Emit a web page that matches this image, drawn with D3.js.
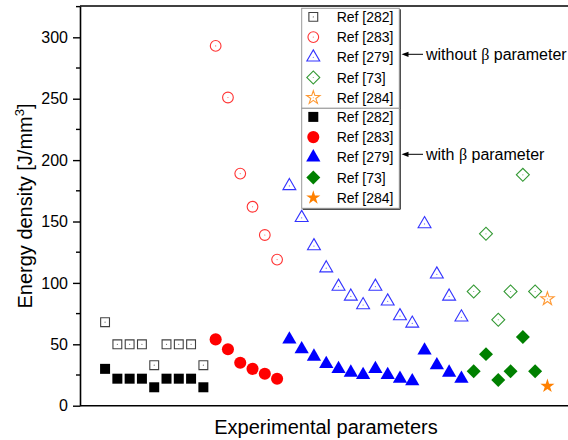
<!DOCTYPE html>
<html>
<head>
<meta charset="utf-8">
<script src="https://cdn.jsdelivr.net/npm/d3@7"></script>
<style>
  body { margin: 0; background: #fff; }
  svg { display: block; font-family: "Liberation Sans", Arial, sans-serif; }
</style>
</head>
<body>
<svg id="chart" width="568" height="440"></svg>
<script>
// references, in legend order
const refs = ["Ref [282]", "Ref [283]", "Ref [279]", "Ref [73]", "Ref [284]"];
const colors = ["#000000", "#ff0000", "#0000ff", "#008000", "#ff8000"];
// first experimental parameter index of each reference
const startIndex = [0, 9, 15, 30, 36];

// energy density without beta parameter (open symbols)
const withoutBeta = [
    [68, 50, 50, 50, 33, 50, 50, 50, 33],
    [293, 251, 189, 162, 139, 119],
    [179, 153, 130, 112, 97, 89, 82, 97, 85, 73, 67, 148, 107, 89, 72],
    [93, 140, 70, 93, 188, 93],
    [87]
];
// energy density with beta parameter (filled symbols)
const withBeta = [
    [30, 22, 22, 22, 15, 22, 22, 22, 15],
    [54, 46, 35, 30, 26, 22],
    [54, 46, 40, 34, 30, 27, 25, 30, 25, 22, 20, 45, 33, 27, 22],
    [28, 42, 21, 28, 56, 28],
    [16]
];

const yTicks = [0, 50, 100, 150, 200, 250, 300];
const yMinorTicks = [25, 75, 125, 175, 225, 275, 325];

const svg = d3.select("#chart");
const plotLeft = 80, plotRight = 572, plotTop = 6, plotBottom = 405.7;

let x = d3.scaleLinear().domain([-2.04, 38]).range([plotLeft, plotRight]);
let y = d3.scaleLinear().domain([0, 325.5]).range([plotBottom, plotTop]);

// symbol shapes: [type, open size, filled size, rotate]
const shapes = [
    [d3.symbolSquare, 78, 100, 0],
    [d3.symbolCircle, 90, 115, 0],
    [d3.symbolTriangle, 72, 88, 0],
    [d3.symbolSquare, 84, 98, 45],
    [d3.symbolStar, 55, 62, 0]
];

function marker(g, k, filled) {
    let s = shapes[k];
    g.append("path")
        .attr("d", d3.symbol().type(s[0]).size(filled ? s[2] : s[1])())
        .attr("transform", "rotate(" + s[3] + ")")
        .attr("fill", filled ? colors[k] : "none")
        .attr("stroke", filled ? "none" : colors[k])
        .attr("stroke-opacity", k == 0 ? 0.75 : 0.8)
        .attr("stroke-width", 1.1);
    if (!filled) {
        g.append("circle").attr("r", 0.6).attr("fill", colors[k]).attr("opacity", 0.6);
    }
}

// axes
svg.append("line").attr("x1", plotLeft).attr("x2", plotRight).attr("y1", plotTop).attr("y2", plotTop)
    .attr("stroke", "#000").attr("stroke-width", 1.6);
svg.append("line").attr("x1", plotLeft).attr("x2", plotRight).attr("y1", plotBottom).attr("y2", plotBottom)
    .attr("stroke", "#000").attr("stroke-width", 1.6);

let yAxis = svg.append("g")
    .attr("transform", "translate(" + plotLeft + ",0)")
    .call(d3.axisLeft(y).tickValues(yTicks).tickSize(7).tickSizeOuter(0).tickPadding(5));
yAxis.select(".domain").attr("stroke-width", 1.6);
yAxis.selectAll(".tick line").attr("stroke-width", 1.4);
yAxis.selectAll(".tick text").attr("font-size", 16).attr("font-family", "Liberation Sans, Arial, sans-serif").attr("fill", "#000");

yAxis.selectAll(".minor").data(yMinorTicks).enter().append("line")
    .attr("class", "minor")
    .attr("x1", -4).attr("x2", 0)
    .attr("y1", d => y(d)).attr("y2", d => y(d))
    .attr("stroke", "#000").attr("stroke-width", 1.4);

// axis titles
let yt = svg.append("text")
    .attr("transform", "translate(32,206) rotate(-90)")
    .attr("text-anchor", "middle")
    .attr("font-size", 20);
yt.append("tspan").text("Energy density [J/mm");
yt.append("tspan").attr("dy", -8).attr("font-size", 13).text("3");
yt.append("tspan").attr("dy", 8).text("]");

svg.append("text")
    .attr("x", 326).attr("y", 434)
    .attr("text-anchor", "middle")
    .attr("font-size", 20)
    .text("Experimental parameters");

// data points
let series = [];
refs.forEach(function (r, k) {
    withoutBeta[k].forEach((v, i) => series.push({ k: k, filled: false, i: startIndex[k] + i, v: v }));
    withBeta[k].forEach((v, i) => series.push({ k: k, filled: true, i: startIndex[k] + i, v: v }));
});

svg.selectAll(".pt").data(series).enter().append("g")
    .attr("class", "pt")
    .attr("transform", d => "translate(" + x(d.i) + "," + y(d.v) + ")")
    .each(function (d) { marker(d3.select(this), d.k, d.filled); });

// legend: two boxes
const lx = 301.7, lw = 97.6, rowH = 20.2;
[false, true].forEach(function (filled, b) {
    let top0 = 8.3 + b * 100;
    let box = svg.append("g");
    box.append("rect").attr("x", lx).attr("y", top0).attr("width", lw).attr("height", 100)
        .attr("fill", "#fff").attr("stroke", "#999").attr("stroke-width", 1);
    box.append("path")
        .attr("d", "M" + (lx + lw + 1) + "," + (top0 + 1) + "V" + (top0 + 101) + "H" + (lx + 1))
        .attr("fill", "none").attr("stroke", "#222").attr("stroke-width", 1);
    refs.forEach(function (r, k) {
        let cy = top0 + 8.6 + k * rowH;
        let g = box.append("g").attr("transform", "translate(" + (lx + 11.6) + "," + cy + ")");
        marker(g, k, filled);
        box.append("text").attr("x", lx + 35).attr("y", cy + 5).attr("font-size", 14).text(r);
    });
});

// annotations
const notes = [["without ", 54.3], ["with ", 154.3]];
notes.forEach(function (n) {
    svg.append("line").attr("x1", 407).attr("x2", 423).attr("y1", n[1]).attr("y2", n[1])
        .attr("stroke", "#000").attr("stroke-width", 1);
    svg.append("path")
        .attr("d", "M401.5," + n[1] + "l7,-2.6v5.2z")
        .attr("fill", "#000");
    let t = svg.append("text").attr("x", 426).attr("y", n[1] + 5.5).attr("font-size", 16);
    t.append("tspan").text(n[0]);
    t.append("tspan").attr("font-family", "Liberation Serif, Times New Roman, serif").text("β");
    t.append("tspan").text(" parameter");
});
</script>
</body>
</html>
